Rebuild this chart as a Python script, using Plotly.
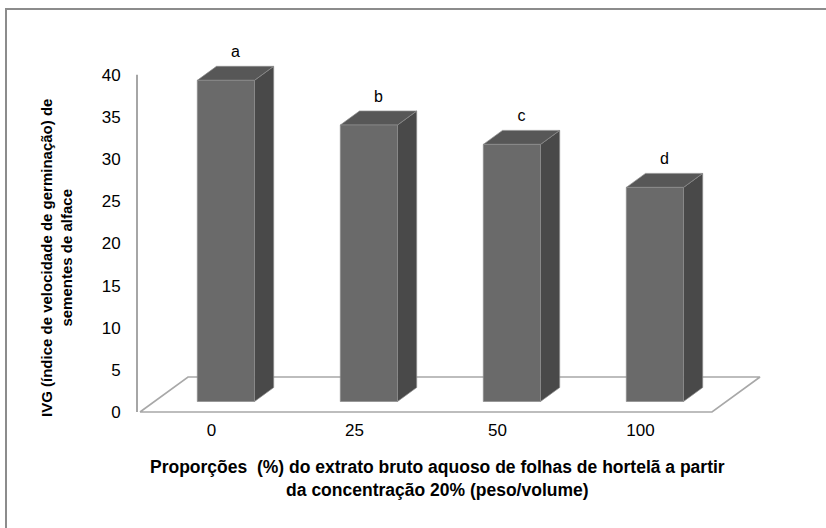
import plotly.graph_objects as go

# Data
categories = ["0", "25", "50", "100"]
ivg_values = [38.1, 32.8, 30.5, 25.4]
group_letters = ["a", "b", "c", "d"]
y_ticks = [0, 5, 10, 15, 20, 25, 30, 35, 40]

# Canvas / pseudo-3D projection settings
W, H = 826, 528
ML, MR, MT, MB = 137, 49, 24, 110
SLOT_PX = 143.0          # pixels per category slot
PPU = 8.43               # pixels per value unit
FLOOR_X0_PX = 140.0      # floor front-left corner (x pixel)
ZERO_PX = 412.0          # value 0 at the floor front edge (y pixel)

plot_w = W - ML - MR
plot_h = H - MT - MB
x_min = -(FLOOR_X0_PX - ML) / SLOT_PX
x_range = [x_min, x_min + plot_w / SLOT_PX]
y_min = -((H - MB) - ZERO_PX) / PPU
y_range = [y_min, y_min + plot_h / PPU]

DX = 48.0 / SLOT_PX      # full-depth shift along x (data units)
DY = 35.0 / PPU          # full-depth shift along y (data units)
GAP = 0.3                # bar inset inside a slot
D0, D1 = 0.3, 0.7        # bar front / back depth fractions

FRONT = "#6a6a6a"
SIDE = "#494949"
TOP = "#575757"
EDGE = "#8c8c8c"
FLOOR_LINE = "#a8a8a8"
FONT = "Liberation Sans, Arial, sans-serif"

fig = go.Figure()

# Floor (parallelogram under the columns)
n = len(categories)
fx = [0, n, n + DX, DX, 0]
fy = [0, 0, DY, DY, 0]
fig.add_trace(go.Scatter(x=fx, y=fy, mode="lines", fill="toself",
                         fillcolor="white",
                         line=dict(color=FLOOR_LINE, width=1.6),
                         hoverinfo="skip", showlegend=False))


def poly(xs, ys, color):
    fig.add_trace(go.Scatter(x=xs + [xs[0]], y=ys + [ys[0]], mode="lines",
                             fill="toself", fillcolor=color,
                             line=dict(color=EDGE, width=0.7),
                             hoverinfo="skip", showlegend=False))


for i, v in enumerate(ivg_values):
    xl, xr = i + GAP, i + 1 - GAP
    fx0, fy0 = D0 * DX, D0 * DY
    bx0, by0 = D1 * DX, D1 * DY
    # right side face
    poly([xr + fx0, xr + bx0, xr + bx0, xr + fx0],
         [fy0, by0, by0 + v, fy0 + v], SIDE)
    # top face
    poly([xl + fx0, xr + fx0, xr + bx0, xl + bx0],
         [fy0 + v, fy0 + v, by0 + v, by0 + v], TOP)
    # front face
    poly([xl + fx0, xr + fx0, xr + fx0, xl + fx0],
         [fy0, fy0, fy0 + v, fy0 + v], FRONT)

# Significance letters above each column
letter_x = [i + 0.5 + 0.5 * (D0 + D1) * DX for i in range(n)]
letter_y = [v + D1 * DY + 1.6 for v in ivg_values]
fig.add_trace(go.Scatter(x=letter_x, y=letter_y, mode="text",
                         text=group_letters, textposition="middle center",
                         textfont=dict(family=FONT, size=16, color="#000"),
                         hoverinfo="skip", showlegend=False, cliponaxis=False))

fig.update_layout(
    width=W, height=H,
    margin=dict(l=ML, r=MR, t=MT, b=MB),
    paper_bgcolor="white", plot_bgcolor="white",
    showlegend=False,
    xaxis=dict(range=x_range, showgrid=False, zeroline=False, showline=False,
               tickmode="array", tickvals=[i + 0.5 for i in range(n)],
               ticktext=categories, ticks="", ticklen=0,
               tickfont=dict(family=FONT, size=17, color="#000"),
               fixedrange=True),
    yaxis=dict(range=y_range, showgrid=False, zeroline=False, showline=False,
               tickmode="array", tickvals=y_ticks,
               ticks="outside", ticklen=12, tickcolor="rgba(0,0,0,0)",
               tickfont=dict(family=FONT, size=17, color="#000"),
               fixedrange=True),
    shapes=[
        # value axis line from 0 to 40
        dict(type="line", xref="paper", yref="y", x0=0, x1=0,
             y0=y_ticks[0], y1=y_ticks[-1],
             line=dict(color="#a6a6a6", width=2)),
        # outer chart frame (only its top and left sides fall inside the page)
        dict(type="rect", xref="paper", yref="paper",
             x0=(6 - ML) / plot_w, x1=(W + 40 - ML) / plot_w,
             y0=(H - MB - (H + 40)) / plot_h, y1=(H - MB - 9) / plot_h,
             line=dict(color="#8c8c8c", width=2), fillcolor="rgba(0,0,0,0)",
             layer="below"),
    ],
    annotations=[
        dict(text="<b>Proporções  (%) do extrato bruto aquoso de folhas de hortelã a partir<br>"
                  "da concentração 20% (peso/volume)</b>",
             xref="paper", yref="paper",
             x=(437 - ML) / plot_w, y=(H - MB - 478) / plot_h,
             xanchor="center", yanchor="middle", showarrow=False,
             font=dict(family=FONT, size=17.5, color="#000")),
        dict(text="<b>IVG (índice de velocidade de germinação) de<br>"
                  "sementes de alface</b>",
             xref="paper", yref="paper",
             x=(56 - ML) / plot_w, y=(H - MB - 258) / plot_h,
             xanchor="center", yanchor="middle", textangle=-90,
             showarrow=False,
             font=dict(family=FONT, size=15, color="#000")),
    ],
)

fig.write_html("out.html")
